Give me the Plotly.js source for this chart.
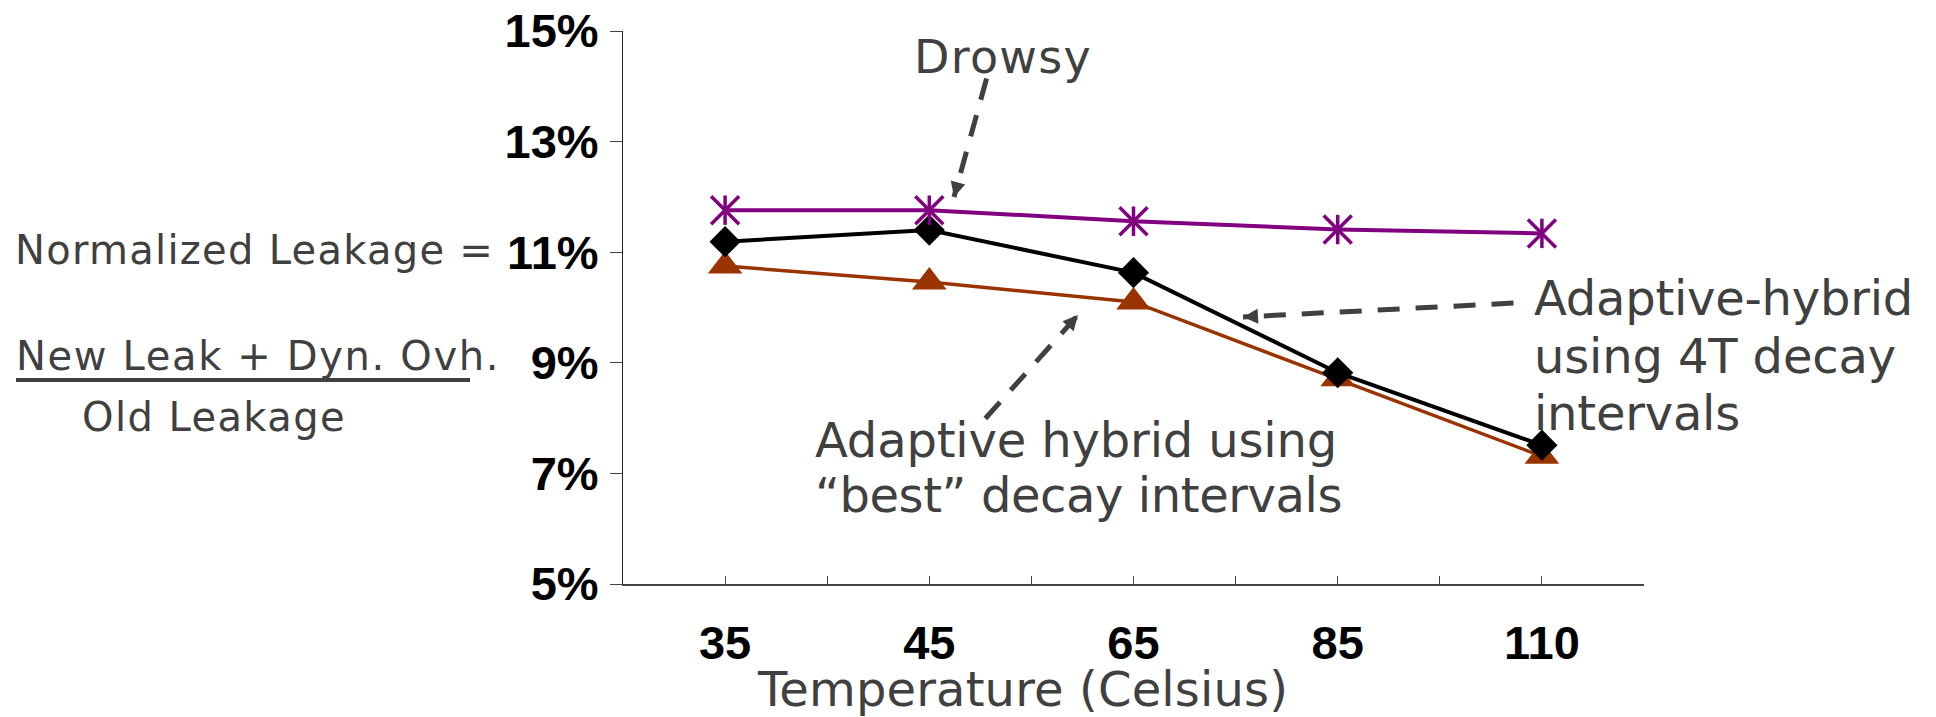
<!DOCTYPE html>
<html>
<head>
<meta charset="utf-8">
<script src="https://cdn.plot.ly/plotly-3.0.1.min.js"></script>
<style>
  html, body { margin: 0; padding: 0; background: #fff; }
  #chart { width: 1936px; height: 717px; }
</style>
</head>
<body>
<div id="chart"></div>
<script>
// ---- data ----
const temps = ['35', '45', '65', '85', '110'];
const drowsy = [11.76, 11.76, 11.56, 11.41, 11.34];
const hybrid4T = [11.19, 11.40, 10.63, 8.82, 7.51];
const hybridBest = [10.75, 10.46, 10.10, 8.71, 7.31];
const yTicks = [5, 7, 9, 11, 13, 15];
const yTickText = ['5%', '7%', '9%', '11%', '13%', '15%'];
const xTitle = 'Temperature (Celsius)';
const formulaTop = 'Normalized Leakage =';
const formulaNum = 'New Leak + Dyn. Ovh.';
const formulaDen = 'Old Leakage';
const labelDrowsy = 'Drowsy';
const label4T = ['Adaptive-hybrid', 'using 4T decay', 'intervals'];
const labelBest = ['Adaptive hybrid using', '\u201cbest\u201d decay intervals'];

// ---- geometry helpers (plot area in pixels) ----
const W = 1936, H = 717;
const L = 623, R = 1644, T = 31, B = 584;
const px = x => (x - L) / (R - L);
const py = y => (B - y) / (B - T);

const idx = temps.map((_, i) => i);
const GRAY = '#404040';
const TXT = 'DejaVu Sans, Verdana, sans-serif';
const BOLD = 'Liberation Sans, Arial, sans-serif';

const traces = [
  { x: idx, y: hybridBest, mode: 'lines+markers', hoverinfo: 'skip', cliponaxis: false,
    line: { color: '#993300', width: 3.5 },
    marker: { symbol: 'triangle-up', size: 30, color: '#993300' } },
  { x: idx, y: hybrid4T, mode: 'lines+markers', hoverinfo: 'skip', cliponaxis: false,
    line: { color: '#000000', width: 4 },
    marker: { symbol: 'diamond', size: 24, color: '#000000' } },
  { x: idx, y: drowsy, mode: 'lines+markers', hoverinfo: 'skip', cliponaxis: false,
    line: { color: '#800080', width: 4 },
    marker: { symbol: 'line-ns-open', size: 21, color: '#800080', line: { color: '#800080', width: 3.5 } } },
  { x: idx, y: drowsy, mode: 'markers', hoverinfo: 'skip', cliponaxis: false,
    marker: { symbol: 'x-thin-open', size: 28, color: '#800080', line: { color: '#800080', width: 3.5 } } }
];

// text annotation: left x, baseline y, font size, target width
const textSpecs = [];
function addText(text, left, baseline, size, target) {
  textSpecs.push({ text, left, baseline, size, target });
}
addText(formulaTop, 15, 264, 40, 479);
addText(formulaNum, 16, 370, 40, 484);
addText(formulaDen, 82, 431, 40, 264);
addText(labelDrowsy, 914, 73, 46, 178);
addText(label4T[0], 1534, 315, 48, 379);
addText(label4T[1], 1534, 373, 48, 362);
addText(label4T[2], 1534, 430, 48, 206);
addText(labelBest[0], 815, 457, 48, 522);
addText(labelBest[1], 815, 512, 48, 527);
addText(xTitle, 757, 706, 48, 530);

const annotations = textSpecs.map(s => ({
  text: s.text, showarrow: false, xref: 'paper', yref: 'paper',
  x: px(s.left), y: py(s.baseline - 0.346 * s.size),
  xanchor: 'left', yanchor: 'middle', align: 'left',
  borderpad: 0, borderwidth: 0,
  font: { family: TXT, size: s.size, color: GRAY }
}));

// dashed arrows: tail -> tip (pixels)
function addArrow(tailX, tailY, tipX, tipY) {
  annotations.push({
    text: '', showarrow: true, xref: 'paper', yref: 'paper',
    x: px(tipX), y: py(tipY), ax: tailX - tipX, ay: tailY - tipY,
    axref: 'pixel', ayref: 'pixel',
    arrowhead: 2, arrowsize: 0.6, arrowwidth: 5, arrowcolor: GRAY, standoff: 0
  });
}
addArrow(987, 77, 954, 197);
addArrow(984, 420, 1078, 315);
addArrow(1515, 303, 1243, 317);

const shapes = [
  { type: 'line', xref: 'paper', yref: 'paper', x0: px(16), x1: px(470), y0: py(380), y1: py(380),
    line: { color: GRAY, width: 4 } }
];

const layout = {
  width: W, height: H,
  margin: { l: L, r: W - R, t: T, b: H - B, pad: 0 },
  paper_bgcolor: '#ffffff', plot_bgcolor: '#ffffff',
  showlegend: false,
  xaxis: {
    range: [-0.5, 4.5], tickmode: 'array', tickvals: idx, ticktext: temps,
    ticks: 'inside', ticklen: 8, tickwidth: 1, tickcolor: '#444',
    showline: true, linecolor: '#444', linewidth: 1.5,
    showgrid: false, zeroline: false,
    tickfont: { family: BOLD, size: 47, color: '#000', weight: 'bold' },
    ticklabelstandoff: 17,
    minor: { ticks: 'inside', ticklen: 8, tickwidth: 1, tickcolor: '#444', tick0: -0.5, dtick: 1, showgrid: false }
  },
  yaxis: {
    range: [5, 15], tickmode: 'array', tickvals: yTicks, ticktext: yTickText,
    ticks: 'outside', ticklen: 12, tickwidth: 1, tickcolor: '#444',
    showline: true, linecolor: '#222', linewidth: 1,
    showgrid: false, zeroline: false,
    tickfont: { family: BOLD, size: 47, color: '#000', weight: 'bold' },
    ticklabelstandoff: 2
  },
  annotations, shapes
};

Plotly.newPlot('chart', traces, layout, { displayModeBar: false, staticPlot: true }).then(gd => {
  // stretch text horizontally to match the reference widths
  gd.querySelectorAll('g.annotation').forEach(g => {
    const i = +g.getAttribute('data-index');
    const spec = textSpecs[i];
    if (!spec) return;
    const t = g.querySelector('text.annotation-text');
    if (!t) return;
    const w = t.getComputedTextLength();
    const n = spec.text.length;
    t.style.letterSpacing = ((spec.target - w) / n).toFixed(2) + 'px';
  });
  // dashed arrow lines (arrowheads have zero stroke width, so they stay solid)
  gd.querySelectorAll('.annotation path, .annotation-arrow-g path').forEach(p => {
    const sw = parseFloat(p.style.strokeWidth || p.getAttribute('stroke-width') || '0');
    if (sw > 0) {
      p.style.strokeDasharray = '22px, 16px';
      p.setAttribute('stroke-dasharray', '22,16');
    }
  });
});
</script>
</body>
</html>
